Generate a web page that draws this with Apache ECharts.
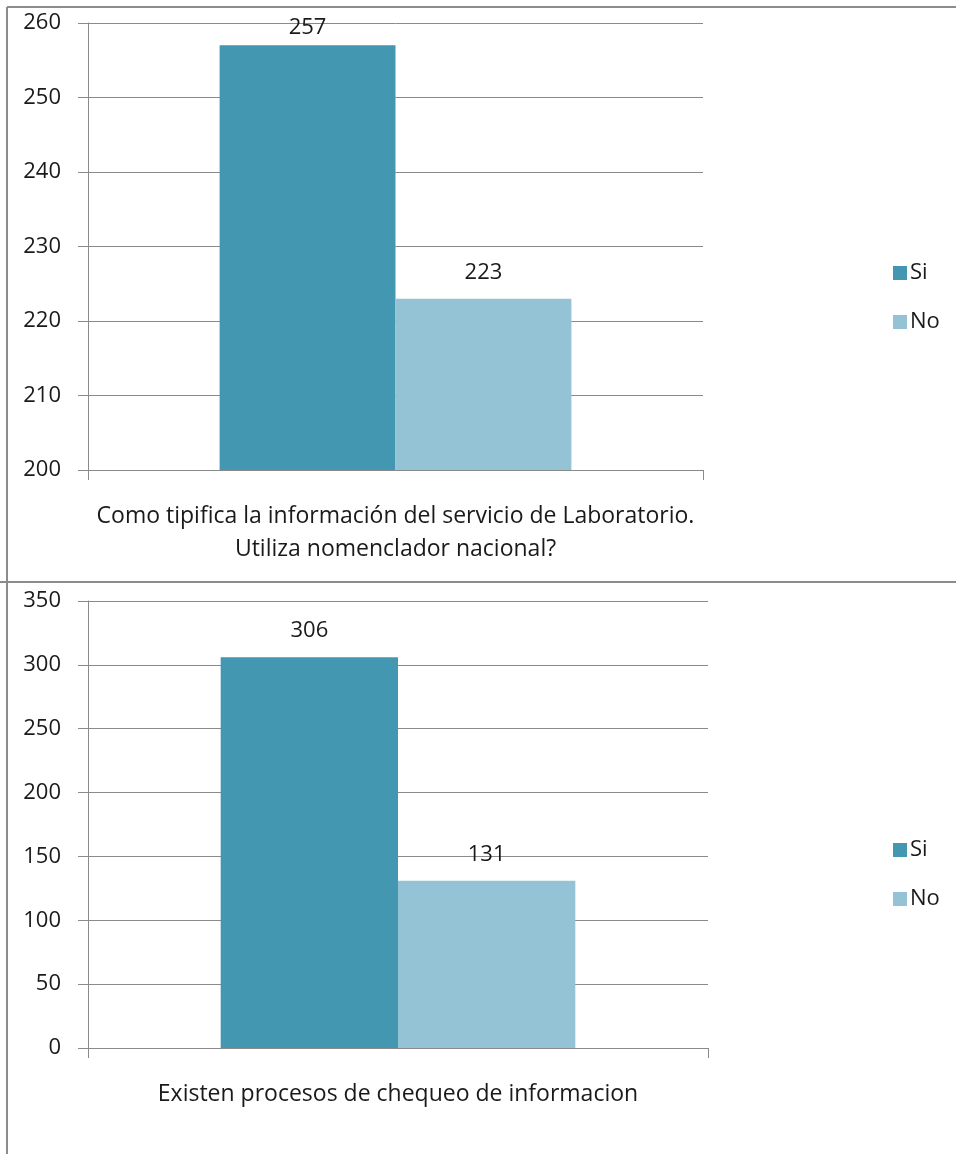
<!DOCTYPE html>
<html>
<head>
<meta charset="utf-8">
<title>Encuesta de laboratorio</title>
<script src="https://cdn.jsdelivr.net/npm/echarts@6/dist/echarts.min.js"></script>
<style>
  html, body { margin: 0; padding: 0; background: #fff; }
  #chart { width: 956px; height: 1154px; }
</style>
</head>
<body>
<div id="chart"></div>
<script>
// Question categories for the two panels
const topCategories = ['Como tipifica la información del servicio de Laboratorio.\nUtiliza nomenclador nacional?'];
const bottomCategories = ['Existen procesos de chequeo de informacion'];

// Answer counts
const seriesNames = ['Si', 'No'];
const topSi = [257];
const topNo = [223];
const bottomSi = [306];
const bottomNo = [131];

// Value axis ranges
const topAxis = { min: 200, max: 260, interval: 10 };
const bottomAxis = { min: 0, max: 350, interval: 50 };

const COLOR_SI = '#4397b0';
const COLOR_NO = '#93c3d4';
const GRID_LINE = '#8a8a8a';
const FONT = '"Open Sans", "Noto Sans", sans-serif';
const TEXT = '#1a1a1a';

const chart = echarts.init(document.getElementById('chart'), null, { renderer: 'canvas' });

function xAxisFor(gridIndex, cats) {
  return {
    type: 'category',
    gridIndex: gridIndex,
    data: cats,
    axisLine: { lineStyle: { color: GRID_LINE, width: 1 } },
    axisTick: { show: true, length: 10, lineStyle: { color: GRID_LINE } },
    axisLabel: { color: TEXT, fontFamily: FONT, fontSize: 23, lineHeight: 33, margin: 30, align: 'center' }
  };
}

function yAxisFor(gridIndex, range) {
  return {
    type: 'value',
    gridIndex: gridIndex,
    min: range.min,
    max: range.max,
    interval: range.interval,
    axisLine: { show: true, lineStyle: { color: GRID_LINE, width: 1 } },
    axisTick: { show: true, length: 10, lineStyle: { color: GRID_LINE } },
    splitLine: { show: true, lineStyle: { color: GRID_LINE, width: 1 } },
    axisLabel: { color: TEXT, fontFamily: FONT, fontSize: 22, margin: 27 }
  };
}

function barSeries(name, values, xi, color) {
  return {
    name: name,
    type: 'bar',
    xAxisIndex: xi,
    yAxisIndex: xi,
    data: values,
    barWidth: '28.6%',
    barGap: '0%',
    barCategoryGap: '43%',
    itemStyle: { color: color },
    label: {
      show: true,
      position: 'top',
      distance: 15,
      color: TEXT,
      fontFamily: FONT,
      fontSize: 22
    }
  };
}

function legendAt(top) {
  return {
    orient: 'vertical',
    left: 888,
    top: top,
    data: seriesNames,
    itemWidth: 14,
    itemHeight: 14,
    itemGap: 27,
    icon: 'rect',
    textStyle: { color: TEXT, fontFamily: FONT, fontSize: 22, lineHeight: 22, padding: [0, 0, 0, -2] },
    selectedMode: false
  };
}

const topSiSeries = barSeries('Si', topSi, 0, COLOR_SI);
topSiSeries.label.distance = 7;

const option = {
  backgroundColor: '#ffffff',
  animation: false,
  grid: [
    { left: 88, right: 253, top: 23, bottom: 684 },
    { left: 88, right: 248, top: 601, bottom: 106 }
  ],
  xAxis: [xAxisFor(0, topCategories), xAxisFor(1, bottomCategories)],
  yAxis: [yAxisFor(0, topAxis), yAxisFor(1, bottomAxis)],
  legend: [legendAt(257), legendAt(834)],
  series: [
    topSiSeries,
    barSeries('No', topNo, 0, COLOR_NO),
    barSeries('Si', bottomSi, 1, COLOR_SI),
    barSeries('No', bottomNo, 1, COLOR_NO)
  ],
  graphic: [
    // panel frames
    { type: 'line', shape: { x1: 7, y1: 7, x2: 956, y2: 7 }, style: { stroke: '#8c8c8c', lineWidth: 2 } },
    { type: 'line', shape: { x1: 7, y1: 7, x2: 7, y2: 1154 }, style: { stroke: '#8c8c8c', lineWidth: 2 } },
    { type: 'line', shape: { x1: 0, y1: 582, x2: 956, y2: 582 }, style: { stroke: '#8c8c8c', lineWidth: 2 } }
  ]
};

chart.setOption(option);
</script>
</body>
</html>
